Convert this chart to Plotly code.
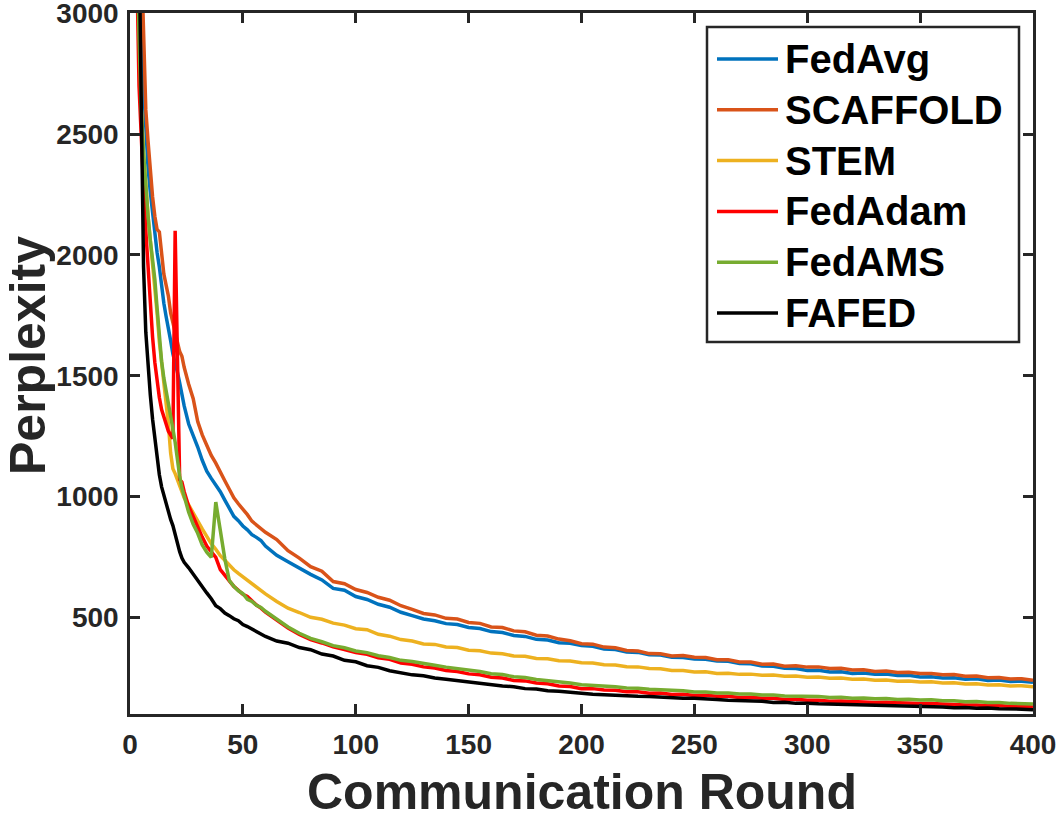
import plotly.graph_objects as go

# communication rounds (dense at the start, sparser later on)
rounds = list(range(1, 25)) + list(range(26, 61, 2)) + list(range(65, 401, 5))

fedavg = [9000, 6000, 4200, 3400, 2950, 2700, 2520, 2360, 2260, 2170, 2080, 2010,
          1950, 1870, 1800, 1745, 1700, 1645, 1590, 1555, 1515, 1470, 1420, 1375,
          1300, 1255, 1205, 1150, 1105, 1075, 1050, 1020, 985, 948, 918, 900,
          878, 862, 842, 831, 818, 795,
          757, 730, 703, 678, 655, 620, 612, 586, 574, 554,
          542, 521, 507, 493, 486, 474, 470, 458, 454, 441,
          437, 425, 421, 409, 406, 395, 393, 383, 380, 369,
          367, 357, 355, 345, 344, 335, 334, 328, 327, 319,
          318, 309, 308, 299, 298, 289, 288, 280, 281, 274,
          275, 268, 270, 264, 265, 259, 260, 253, 254, 249,
          250, 244, 246, 239, 241, 235, 236, 231]

scaffold = [9500, 6500, 4600, 3700, 3250, 2900, 2600, 2470, 2330, 2240, 2160, 2105,
            2095, 2020, 1920, 1875, 1830, 1760, 1720, 1680, 1645, 1600, 1580, 1535,
            1465, 1405, 1310, 1255, 1212, 1170, 1138, 1105, 1065, 1030, 995, 970,
            948, 925, 898, 882, 868, 852,
            822, 776, 745, 710, 691, 648, 639, 615, 603, 583,
            571, 548, 533, 516, 510, 496, 493, 479, 475, 460,
            458, 444, 440, 426, 423, 410, 403, 391, 389, 377,
            374, 363, 361, 350, 349, 340, 342, 335, 334, 325,
            324, 315, 315, 306, 307, 298, 300, 294, 295, 288,
            289, 282, 283, 276, 278, 272, 273, 268, 268, 262,
            263, 256, 257, 250, 251, 245, 246, 240]

stem = [8000, 5000, 3400, 2900, 2600, 2420, 2280, 2160, 2060, 1970, 1880, 1760,
        1640, 1550, 1470, 1400, 1300, 1180, 1115, 1095, 1070, 1045, 1020, 995,
        965, 930, 900, 866, 835, 805, 782, 755, 736, 715, 697, 682,
        668, 655, 638, 626, 612, 597,
        566, 538, 520, 500, 492, 476, 468, 453, 449, 430,
        422, 408, 402, 390, 388, 377, 375, 364, 362, 352,
        349, 340, 339, 330, 329, 320, 319, 312, 311, 304,
        303, 296, 295, 288, 287, 280, 280, 274, 275, 268,
        269, 264, 265, 260, 261, 256, 257, 252, 253, 248,
        249, 244, 245, 240, 241, 236, 237, 232, 233, 228,
        229, 224, 225, 220, 221, 216, 217, 213]

fedadam = [9000, 5500, 3200, 2700, 2450, 2280, 2100, 1940, 1790, 1660, 1555, 1470,
           1410, 1360, 1335, 1300, 1270, 1255, 1240, 2100, 1560, 1070, 1060, 1020,
           960, 915, 874, 832, 795, 772, 748, 698, 675, 655, 628, 612,
           595, 586, 568, 551, 538, 522,
           489, 456, 429, 408, 394, 378, 367, 354, 347, 333,
           326, 311, 306, 295, 290, 280, 276, 266, 262, 252,
           249, 239, 237, 228, 225, 216, 214, 205, 205, 199,
           198, 192, 192, 186, 187, 181, 182, 177, 178, 173,
           173, 168, 169, 165, 165, 160, 161, 157, 157, 153,
           154, 151, 151, 148, 149, 146, 146, 143, 143, 140,
           140, 137, 137, 134, 135, 131, 132, 129]

fedams = [8000, 5000, 3400, 2900, 2600, 2420, 2280, 2160, 2060, 1980, 1900, 1780,
          1650, 1560, 1490, 1440, 1395, 1340, 1280, 1225, 1150, 1085, 1035, 1000,
          935, 885, 848, 800, 770, 748, 977, 860, 742, 652, 628, 610,
          598, 575, 566, 550, 541, 525,
          494, 460, 434, 413, 399, 383, 374, 361, 354, 341,
          334, 322, 317, 308, 302, 294, 289, 281, 276, 267,
          263, 254, 251, 243, 239, 232, 228, 221, 219, 214,
          213, 208, 207, 202, 201, 197, 196, 191, 191, 187,
          187, 183, 183, 179, 179, 175, 175, 172, 172, 168,
          169, 165, 166, 163, 164, 160, 161, 158, 159, 155,
          155, 151, 152, 148, 148, 144, 144, 141]

fafed = [9000, 6000, 4200, 3300, 2500, 1950, 1680, 1520, 1420, 1320, 1235, 1160,
         1090, 1040, 1005, 965, 935, 905, 880, 845, 800, 772, 745, 728,
         705, 678, 652, 622, 601, 577, 548, 536, 518, 507, 494, 486,
         470, 462, 452, 442, 430, 421,
         402, 393, 375, 366, 348, 340, 322, 316, 300, 293,
         279, 271, 262, 258, 249, 244, 238, 233, 226, 223,
         216, 213, 205, 203, 196, 194, 189, 186, 182, 180,
         177, 176, 173, 172, 169, 169, 165, 165, 161, 160,
         157, 156, 152, 153, 148, 149, 144, 145, 142, 141,
         139, 139, 136, 137, 133, 134, 131, 131, 129, 129,
         126, 127, 124, 125, 122, 122, 120, 118]

series = [("FedAvg", fedavg, "#0072BD"),
          ("SCAFFOLD", scaffold, "#D95319"),
          ("STEM", stem, "#EDB120"),
          ("FedAdam", fedadam, "#FF0000"),
          ("FedAMS", fedams, "#77AC30"),
          ("FAFED", fafed, "#000000")]

x_ticks = list(range(0, 401, 50))
y_ticks = [500, 1000, 1500, 2000, 2500, 3000]

W, H = 1060, 814
L, R, T, B = 130, 27, 13, 100
FONT = "Liberation Sans"


def px_x(p):
    # pixel column -> paper x
    return (p - L) / (W - L - R)


def px_y(p):
    # pixel row -> paper y
    return (H - B - p) / (H - T - B)


fig = go.Figure()
for name, vals, color in series:
    assert len(vals) == len(rounds), name
    fig.add_trace(go.Scatter(x=rounds, y=vals, mode="lines", name=name, showlegend=False,
                             line=dict(color=color, width=3.5)))

axis_style = dict(showline=True, linewidth=2.5, linecolor="#262626", mirror="allticks",
                  ticks="inside", ticklen=10, tickwidth=2.5, tickcolor="#262626",
                  showgrid=False, zeroline=False, automargin=False,
                  ticklabeloverflow="allow",
                  tickfont=dict(family=FONT, size=28, weight="bold", color="#262626"))

fig.update_xaxes(range=[0, 400], tickvals=x_ticks, ticklabelstandoff=4, **axis_style)
fig.update_yaxes(range=[100, 3001], tickvals=y_ticks, ticklabelstandoff=3, **axis_style)

# axis titles as annotations, easier to place than the axis titles
title_font = dict(family=FONT, size=50, weight="bold", color="#262626")
annotations = [dict(text="Communication Round", x=0.5, y=px_y(792),
                    xref="paper", yref="paper", xanchor="center", yanchor="middle",
                    showarrow=False, font=title_font),
               dict(text="Perplexity", textangle=-90, x=px_x(28), y=px_y(356),
                    xref="paper", yref="paper", xanchor="center", yanchor="middle",
                    showarrow=False, font=title_font)]

# MATLAB style boxed legend, drawn by hand so row spacing matches
shapes = [dict(type="rect", xref="paper", yref="paper",
               x0=px_x(707), x1=px_x(1019), y0=px_y(342), y1=px_y(27),
               line=dict(color="#262626", width=2.5), fillcolor="white", layer="above")]
for i, (name, vals, color) in enumerate(series):
    row = 59 + i * 50.8
    shapes.append(dict(type="line", xref="paper", yref="paper",
                       x0=px_x(717), x1=px_x(778), y0=px_y(row), y1=px_y(row),
                       line=dict(color=color, width=3.5), layer="above"))
    annotations.append(dict(text=name, x=px_x(783), y=px_y(row), xref="paper", yref="paper",
                            xanchor="left", yanchor="middle", showarrow=False,
                            font=dict(family=FONT, size=40, weight="bold", color="#000000")))

fig.update_layout(width=W, height=H,
                  margin=dict(l=L, r=R, t=T, b=B),
                  plot_bgcolor="white", paper_bgcolor="white",
                  shapes=shapes, annotations=annotations)

# drop the default 8px body margin so the figure sits at the window corner
fig.write_html("out.html", config={"displayModeBar": False},
               post_script="document.body.style.margin = '0';")
